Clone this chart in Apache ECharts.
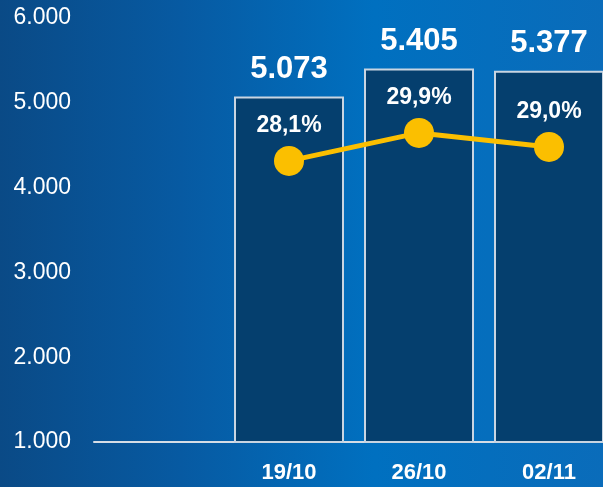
<!DOCTYPE html>
<html lang="pt">
<head>
    <meta charset="UTF-8">
    <title>Semanas</title>
    <script src="https://cdn.jsdelivr.net/npm/echarts@6/dist/echarts.min.js"></script>
    <style>
        html, body {
            margin: 0;
            padding: 0;
        }
        body {
            background: linear-gradient(90deg, #0a4a86 0%, #075aa2 30%, #0070c0 62%, #0a6cba 100%);
        }
        #chart {
            width: 603px;
            height: 487px;
        }
    </style>
</head>
<body>
<div id="chart"></div>
<script>
    // dados
    let semanas = ['', '19/10', '26/10', '02/11'];
    let volume = [null, 5073, 5405, 5377];
    let percentual = [null, 28.1, 29.9, 29.0];
    let ticksY = [1000, 2000, 3000, 4000, 5000, 6000];

    let milhar = function (v) {
        let s = String(Math.round(v));
        return s.replace(/\B(?=(\d{3})+(?!\d))/g, '.');
    };

    let myChart = echarts.init(document.getElementById('chart'));
    let option = {
        backgroundColor: 'transparent',
        animation: false,
        textStyle: {
            fontFamily: 'Liberation Sans'
        },
        grid: {
            left: 94,
            right: -11,
            top: 18,
            bottom: 45,
            containLabel: false,
            outerBoundsMode: 'none'
        },
        xAxis: {
            type: 'category',
            data: semanas,
            axisLine: {
                lineStyle: {color: '#d6dde6', width: 2}
            },
            axisTick: {show: false},
            axisLabel: {
                color: '#ffffff',
                fontWeight: 'bold',
                fontSize: 22,
                margin: 20
            }
        },
        yAxis: [{
            type: 'value',
            min: ticksY[0],
            max: ticksY[ticksY.length - 1],
            interval: 1000,
            splitLine: {show: false},
            axisLine: {show: false},
            axisTick: {show: false},
            axisLabel: {
                color: '#ffffff',
                fontSize: 23,
                margin: 23,
                padding: [4, 0, 0, 0],
                formatter: milhar
            }
        }, {
            type: 'value',
            min: 10,
            max: 37.3,
            show: false
        }],
        series: [{
            name: 'Volume',
            type: 'bar',
            data: volume,
            barWidth: 110,
            itemStyle: {
                color: '#053f6e',
                borderColor: '#c9d5e2',
                borderWidth: 2
            },
            label: {
                show: true,
                position: 'top',
                distance: 12,
                color: '#ffffff',
                fontWeight: 'bold',
                fontSize: 31,
                formatter: function (p) {
                    return milhar(p.value);
                }
            }
        }, {
            name: 'Percentual',
            type: 'line',
            yAxisIndex: 1,
            data: percentual,
            symbol: 'circle',
            symbolSize: 30,
            lineStyle: {color: '#fbbf00', width: 5},
            itemStyle: {color: '#fbbf00'},
            z: 5,
            label: {
                show: true,
                position: 'top',
                distance: 9,
                color: '#ffffff',
                fontWeight: 'bold',
                fontSize: 23,
                formatter: function (p) {
                    return p.value.toFixed(1).replace('.', ',') + '%';
                }
            }
        }]
    };
    myChart.setOption(option);
</script>
</body>
</html>
